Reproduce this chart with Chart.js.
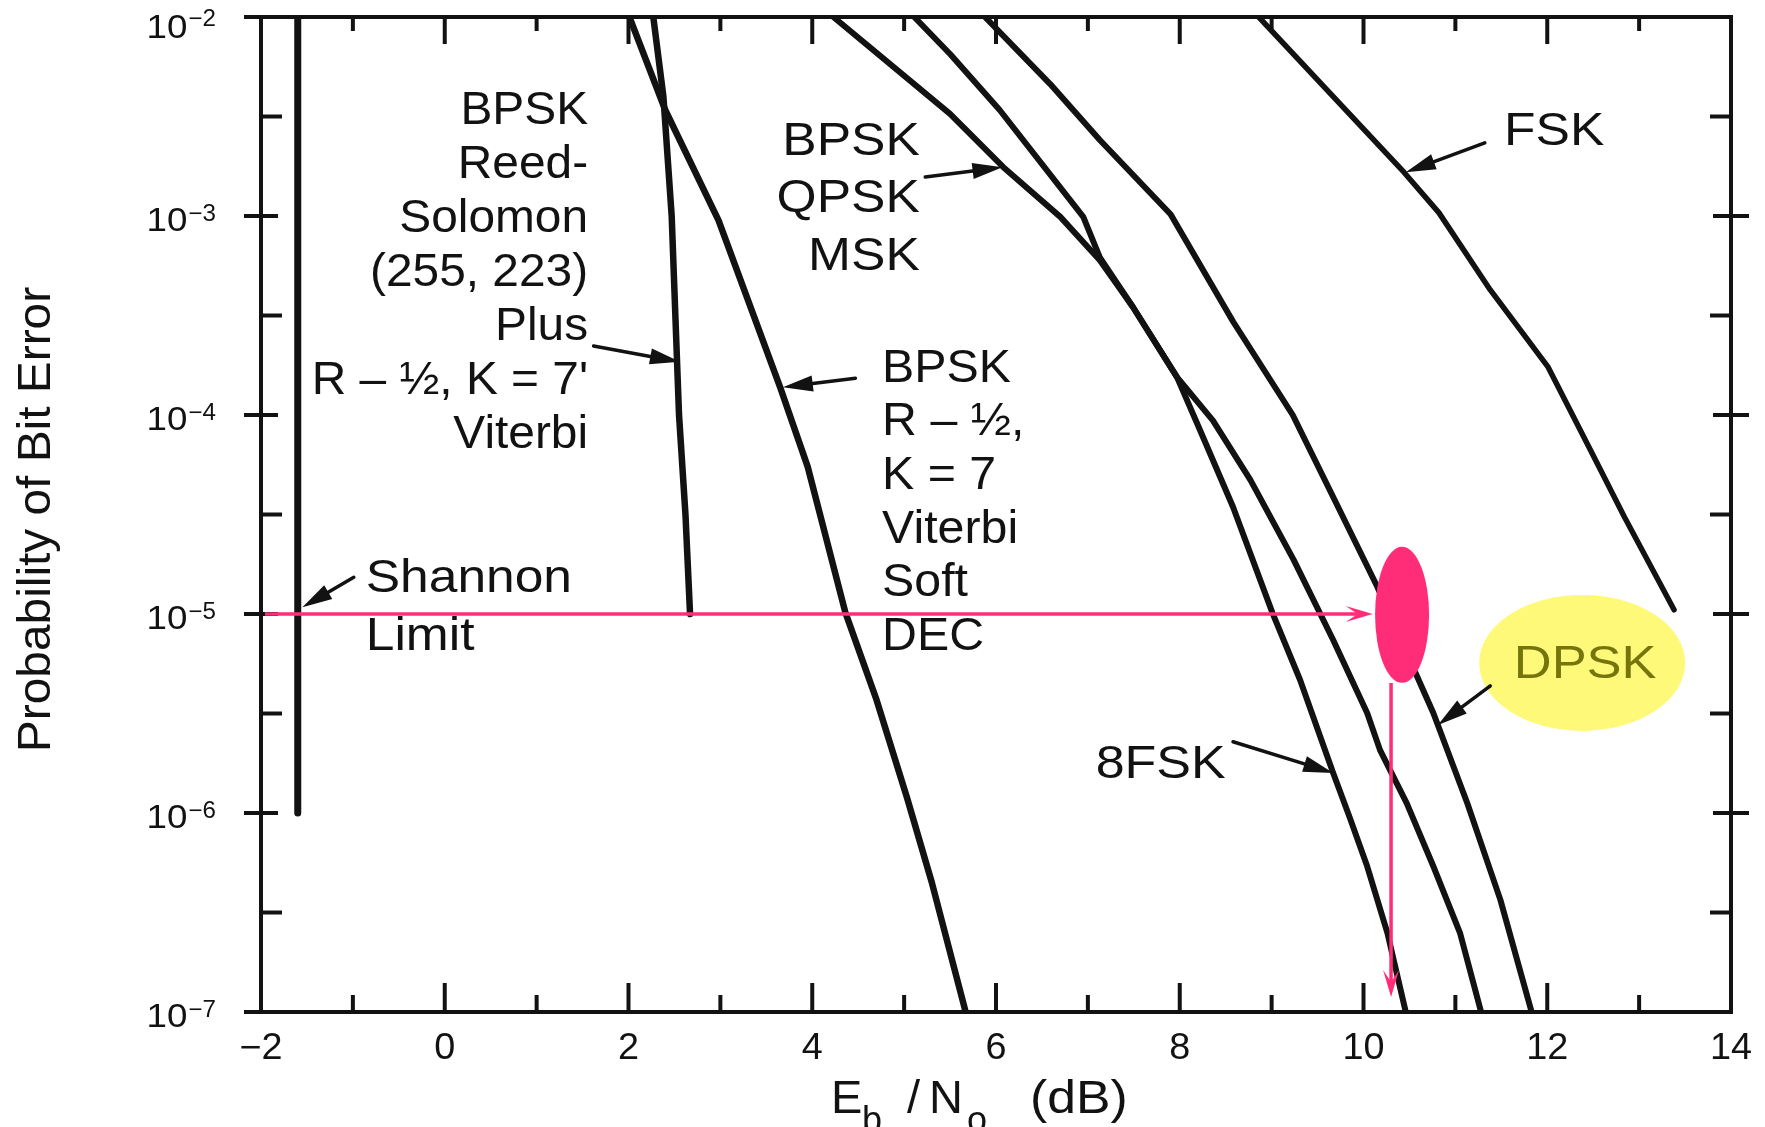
<!DOCTYPE html>
<html>
<head>
<meta charset="utf-8">
<script src="https://cdn.jsdelivr.net/npm/chart.js@4.4.1/dist/chart.umd.min.js"></script>
<style>
html,body{margin:0;padding:0;background:#ffffff;}
canvas{display:block;}
</style>
</head>
<body>
<canvas id="c" width="1765" height="1127"></canvas>
<script>
// ---------------- data ----------------
const xMin = -2, xMax = 14;
const berMin = 1e-7, berMax = 1e-2;

const xMajorTicks = [-2, 0, 2, 4, 6, 8, 10, 12, 14];
const xMinorTicks = [-1, 1, 3, 5, 7, 9, 11, 13];
const xTickLabels = ['−2', '0', '2', '4', '6', '8', '10', '12', '14'];
const yMajorTicks = [1e-2, 1e-3, 1e-4, 1e-5, 1e-6, 1e-7];
const yTickExponents = ['−2', '−3', '−4', '−5', '−6', '−7'];
const yMinorTicks = [3.162e-3, 3.162e-4, 3.162e-5, 3.162e-6, 3.162e-7];

const shannonX = [-1.6, -1.6];
const shannonBer = [1e-2, 1e-6];

const rsX   = [2.27, 2.38, 2.47, 2.55, 2.62, 2.67];
const rsBer = [1e-2, 3.98e-3, 1e-3, 1e-4, 3.16e-5, 1e-5];

const codedX   = [2.01, 2.40, 2.98, 3.65, 3.95, 4.36, 4.70, 5.03, 5.30, 5.67];
const codedBer = [1e-2, 3.41e-3, 9.5e-4, 1.38e-4, 5.5e-5, 1.02e-5, 3.7e-6, 1.2e-6, 4.5e-7, 1e-7];

const bpskX   = [4.23, 5.50, 6.08, 6.70, 7.13, 7.49, 7.97, 8.36, 8.77, 9.24, 9.67, 10.04, 10.18, 10.47, 10.76, 11.05, 11.28];
const bpskBer = [1e-2, 3.26e-3, 1.76e-3, 9.9e-4, 6.0e-4, 3.49e-4, 1.55e-4, 9.4e-5, 4.71e-5, 1.87e-5, 7.4e-6, 3.18e-6, 2.07e-6, 1.12e-6, 5.4e-7, 2.5e-7, 1e-7];

const fsk8X   = [5.11, 5.50, 6.04, 6.95, 7.13, 7.49, 7.97, 8.22, 8.58, 9.01, 9.31, 9.67, 9.85, 10.04, 10.26, 10.46];
const fsk8Ber = [1e-2, 6.52e-3, 3.41e-3, 9.9e-4, 6.2e-4, 3.49e-4, 1.55e-4, 8.4e-5, 3.45e-5, 1.01e-5, 4.66e-6, 1.59e-6, 9.5e-7, 5.4e-7, 2.5e-7, 1e-7];

const dpskX   = [5.88, 6.59, 7.13, 7.90, 8.58, 9.23, 9.67, 10.15, 10.76, 11.13, 11.49, 11.83];
const dpskBer = [1e-2, 4.6e-3, 2.41e-3, 1.02e-3, 2.95e-4, 1.0e-4, 3.87e-5, 1.37e-5, 3.18e-6, 1.12e-6, 3.66e-7, 1e-7];

const fskX   = [8.86, 10.44, 10.82, 11.38, 12.01, 12.47, 12.84, 13.38];
const fskBer = [1e-2, 1.66e-3, 1.04e-3, 4.25e-4, 1.74e-4, 6.67e-5, 3.07e-5, 1.05e-5];

// ---------------- annotations (data coordinates) ----------------
const textBlocks = [
  { lines: ['BPSK', 'Reed-', 'Solomon', '(255, 223)', 'Plus', "R – ½, K = 7'", 'Viterbi'], x: 1.56, ber: 2.9e-3, align: 'right', gap: 54, sx: 1.04 },
  { lines: ['BPSK', 'QPSK', 'MSK'], x: 5.17, ber: 2.03e-3, align: 'right', gap: 57.5, sx: 1.12 },
  { lines: ['BPSK', 'R – ½,', 'K = 7', 'Viterbi', 'Soft', 'DEC'], x: 4.76, ber: 1.47e-4, align: 'left', gap: 53.6, sx: 1.05 },
  { lines: ['Shannon', 'Limit'], x: -0.86, ber: 1.29e-5, align: 'left', gap: 58, sx: 1.12 },
  { lines: ['FSK'], x: 11.53, ber: 2.28e-3, align: 'left', gap: 0, sx: 1.12 },
  { lines: ['8FSK'], x: 8.50, ber: 1.50e-6, align: 'right', gap: 0, sx: 1.13 }
];
const arrows = [
  { from: [-0.99, 1.53e-5], to: [-1.55, 1.08e-5] },
  { from: [1.62, 2.22e-4], to: [2.56, 1.85e-4] },
  { from: [4.47, 1.53e-4], to: [3.68, 1.38e-4] },
  { from: [5.23, 1.57e-3], to: [6.07, 1.76e-3] },
  { from: [11.32, 2.33e-3], to: [10.46, 1.66e-3] },
  { from: [8.58, 2.28e-6], to: [9.67, 1.59e-6] },
  { from: [11.38, 4.35e-6], to: [10.81, 2.77e-6] }
];
const dpskMark = { x: 12.38, ber: 5.68e-6, text: 'DPSK' };
const pinkMark = { x: 10.42, ber: 9.9e-6 };
const pinkHArrow = { from: [-2, 1e-5], to: [10.10, 1e-5] };
const pinkVArrow = { from: [10.30, 4.5e-6], to: [10.30, 1.19e-7] };

// ---------------- chart ----------------
const INK = '#121212';
const PINK = '#ff2d78';
const FONT = '"Liberation Sans", Arial, Helvetica, sans-serif';

function pts(xs, ys) { return xs.map((x, i) => ({ x: x, y: ys[i] })); }

const datasets = [
  { label: 'Shannon Limit', data: pts(shannonX, shannonBer), borderWidth: 7 },
  { label: 'BPSK Reed-Solomon (255,223) + R-1/2 K=7 Viterbi', data: pts(rsX, rsBer), borderWidth: 6.5 },
  { label: 'BPSK R-1/2 K=7 Viterbi Soft DEC', data: pts(codedX, codedBer), borderWidth: 6.5 },
  { label: 'BPSK QPSK MSK', data: pts(bpskX, bpskBer), borderWidth: 6 },
  { label: '8FSK', data: pts(fsk8X, fsk8Ber), borderWidth: 6 },
  { label: 'DPSK', data: pts(dpskX, dpskBer), borderWidth: 6 },
  { label: 'FSK', data: pts(fskX, fskBer), borderWidth: 5.5 }
].map(d => Object.assign({
  borderColor: INK, pointRadius: 0, showLine: true, fill: false, tension: 0,
  borderCapStyle: 'round', borderJoinStyle: 'round'
}, d));

function stext(ctx, str, x, y, align, sx) {
  const w = ctx.measureText(str).width * sx;
  const x0 = align === 'right' ? x - w : (align === 'center' ? x - w / 2 : x);
  ctx.save();
  ctx.translate(x0, y);
  ctx.scale(sx, 1);
  ctx.textAlign = 'left';
  ctx.fillText(str, 0, 0);
  ctx.restore();
  return w;
}
function seg(ctx, x1, y1, x2, y2) {
  ctx.beginPath(); ctx.moveTo(x1, y1); ctx.lineTo(x2, y2); ctx.stroke();
}
function blackArrow(ctx, x1, y1, x2, y2) {
  const ang = Math.atan2(y2 - y1, x2 - x1);
  const hl = 30, hw = 8;
  const bx = x2 - hl * Math.cos(ang), by = y2 - hl * Math.sin(ang);
  ctx.strokeStyle = INK; ctx.fillStyle = INK; ctx.lineWidth = 3.5; ctx.lineCap = 'round';
  seg(ctx, x1, y1, bx + 4 * Math.cos(ang), by + 4 * Math.sin(ang));
  ctx.beginPath();
  ctx.moveTo(x2, y2);
  ctx.lineTo(bx + hw * Math.sin(ang), by - hw * Math.cos(ang));
  ctx.lineTo(bx - hw * Math.sin(ang), by + hw * Math.cos(ang));
  ctx.closePath(); ctx.fill();
}
function pinkArrow(ctx, x1, y1, x2, y2) {
  const ang = Math.atan2(y2 - y1, x2 - x1);
  const hl = 27, hw = 8, notch = 15;
  const c = Math.cos(ang), s = Math.sin(ang);
  ctx.strokeStyle = PINK; ctx.fillStyle = PINK; ctx.lineWidth = 3.5; ctx.lineCap = 'butt';
  seg(ctx, x1, y1, x2 - notch * c, y2 - notch * s);
  const bx = x2 - hl * c, by = y2 - hl * s;
  ctx.beginPath();
  ctx.moveTo(x2, y2);
  ctx.lineTo(bx + hw * s, by - hw * c);
  ctx.lineTo(x2 - notch * c, y2 - notch * s);
  ctx.lineTo(bx - hw * s, by + hw * c);
  ctx.closePath(); ctx.fill();
}

const decor = {
  id: 'decor',
  afterDatasetsDraw(chart) {
    const ctx = chart.ctx, a = chart.chartArea;
    const xs = chart.scales.x, ys = chart.scales.y;
    const X = v => xs.getPixelForValue(v), Y = v => ys.getPixelForValue(v);
    ctx.save();
    ctx.strokeStyle = INK; ctx.fillStyle = INK; ctx.lineCap = 'butt';

    // frame
    ctx.lineWidth = 4;
    ctx.strokeRect(a.left, a.top, a.right - a.left, a.bottom - a.top);

    // x ticks (inward, top and bottom)
    ctx.lineWidth = 4;
    xMajorTicks.forEach(v => {
      if (v <= xMin || v >= xMax) return;
      seg(ctx, X(v), a.bottom, X(v), a.bottom - 29);
      seg(ctx, X(v), a.top, X(v), a.top + 27);
    });
    xMinorTicks.forEach(v => {
      seg(ctx, X(v), a.bottom, X(v), a.bottom - 17);
      seg(ctx, X(v), a.top, X(v), a.top + 14);
    });
    // y ticks
    yMajorTicks.forEach(v => {
      const py = Y(v);
      seg(ctx, a.left - 17, py, a.left + 17, py);
      if (v < berMax && v > berMin) seg(ctx, a.right - 18, py, a.right + 18, py);
    });
    yMinorTicks.forEach(v => {
      const py = Y(v);
      seg(ctx, a.left, py, a.left + 21, py);
      seg(ctx, a.right, py, a.right - 21, py);
    });

    // x tick labels
    ctx.textBaseline = 'alphabetic';
    ctx.font = '36px ' + FONT;
    xMajorTicks.forEach((v, i) => stext(ctx, xTickLabels[i], X(v), a.bottom + 47, 'center', 1.05));

    // y tick labels 10^n
    yMajorTicks.forEach((v, i) => {
      const py = Y(v);
      const right = a.left - 45;
      ctx.font = '23px ' + FONT;
      const w = stext(ctx, yTickExponents[i], right, py + (i === 0 ? 9 : 5), 'right', 1.05);
      ctx.font = '34px ' + FONT;
      stext(ctx, '10', right - w - 1, py + (i === 0 ? 21 : 15), 'right', 1.08);
    });

    // axis titles
    ctx.font = '46px ' + FONT;
    ctx.save();
    ctx.translate(50, (a.top + a.bottom) / 2 + 5);
    ctx.rotate(-Math.PI / 2);
    stext(ctx, 'Probability of Bit Error', 0, 0, 'center', 1.04);
    ctx.restore();

    const tb = a.bottom + 101;
    ctx.font = '47px ' + FONT;
    stext(ctx, 'E', a.left + 570, tb, 'left', 1.0);
    stext(ctx, '/', a.left + 646, tb, 'left', 1.0);
    stext(ctx, 'N', a.left + 668, tb, 'left', 1.0);
    stext(ctx, '(dB)', a.left + 769, tb, 'left', 1.1);
    ctx.font = '36px ' + FONT;
    stext(ctx, 'b', a.left + 601, tb + 19, 'left', 1.0);
    stext(ctx, 'o', a.left + 706, tb + 19, 'left', 1.0);

    // text annotations
    ctx.font = '46px ' + FONT;
    textBlocks.forEach(b => {
      b.lines.forEach((ln, k) => stext(ctx, ln, X(b.x), Y(b.ber) + k * b.gap, b.align, b.sx));
    });

    // pink markers
    pinkArrow(ctx, X(pinkHArrow.from[0]) + 4, Y(pinkHArrow.from[1]), X(pinkHArrow.to[0]), Y(pinkHArrow.to[1]));
    pinkArrow(ctx, X(pinkVArrow.from[0]), Y(pinkVArrow.from[1]), X(pinkVArrow.to[0]), Y(pinkVArrow.to[1]));
    ctx.fillStyle = PINK;
    ctx.beginPath();
    ctx.ellipse(X(pinkMark.x), Y(pinkMark.ber), 27, 68, 0, 0, Math.PI * 2);
    ctx.fill();

    // DPSK highlight
    ctx.fillStyle = '#fff97a';
    ctx.beginPath();
    ctx.ellipse(X(dpskMark.x), Y(dpskMark.ber), 103, 68, 0, 0, Math.PI * 2);
    ctx.fill();
    ctx.fillStyle = '#75750c';
    ctx.font = '46px ' + FONT;
    ctx.textBaseline = 'middle';
    stext(ctx, dpskMark.text, X(dpskMark.x) + 3, Y(dpskMark.ber) + 2, 'center', 1.14);
    ctx.textBaseline = 'alphabetic';

    // black leader arrows
    arrows.forEach(ar => blackArrow(ctx, X(ar.from[0]), Y(ar.from[1]), X(ar.to[0]), Y(ar.to[1])));

    ctx.restore();
  }
};

new Chart(document.getElementById('c'), {
  type: 'scatter',
  data: { datasets: datasets },
  options: {
    responsive: false,
    animation: false,
    devicePixelRatio: 1,
    events: [],
    layout: { padding: { left: 261, top: 17, right: 34, bottom: 115 } },
    plugins: { legend: { display: false }, tooltip: { enabled: false } },
    scales: {
      x: { type: 'linear', min: xMin, max: xMax, display: false },
      y: { type: 'logarithmic', min: berMin, max: berMax, display: false }
    }
  },
  plugins: [decor]
});
</script>
</body>
</html>
